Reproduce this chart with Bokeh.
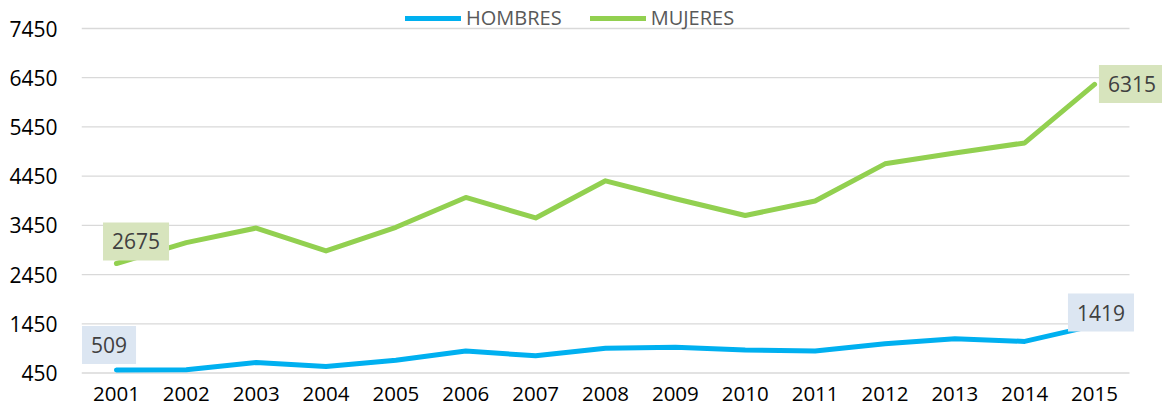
from bokeh.plotting import figure
from bokeh.models import Range1d, Legend, LegendItem, Label, FixedTicker
from bokeh.embed import file_html
from bokeh.resources import INLINE

years = ["2001", "2002", "2003", "2004", "2005", "2006", "2007", "2008",
         "2009", "2010", "2011", "2012", "2013", "2014", "2015"]
hombres = [509, 515, 665, 580, 711, 896, 799, 951, 971, 916, 895, 1045, 1146, 1092, 1419]
mujeres = [2675, 3100, 3395, 2930, 3410, 4017, 3600, 4355, 3990, 3650, 3945, 4700, 4920, 5125, 6315]
y_ticks = [450, 1450, 2450, 3450, 4450, 5450, 6450, 7450]

FONT = "Open Sans"
BLUE = "#00B0F0"
GREEN = "#92D050"

W, H = 1162, 415
LEFT, BOTTOM = 81, 41
CAT_W = 1048          # width of the category area
GRID_SPAN = 344.5     # pixels between lowest and highest gridline
xs = list(range(len(years)))

band = CAT_W / len(years)
x_end = (len(years) - 0.5) + (W - LEFT - CAT_W) / band
frame_h = H - BOTTOM
ppu = GRID_SPAN / (y_ticks[-1] - y_ticks[0])
y_start = y_ticks[0] - 1.5 / ppu
y_end = y_start + frame_h / ppu

p = figure(width=W, height=H, output_backend="svg", toolbar_location=None,
           x_range=Range1d(-0.5, x_end), y_range=Range1d(y_start, y_end),
           min_border_left=LEFT, min_border_right=0, min_border_top=0, min_border_bottom=BOTTOM)
p.outline_line_color = None
p.background_fill_color = "white"
p.border_fill_color = "white"
p.xgrid.grid_line_color = None
p.ygrid.grid_line_color = None

# horizontal gridlines across the category area only
p.segment(x0=[-0.5] * len(y_ticks), x1=[len(years) - 0.5] * len(y_ticks),
          y0=y_ticks, y1=y_ticks, line_color="#D9D9D9", line_width=1.3)

p.yaxis.ticker = FixedTicker(ticks=y_ticks)
p.yaxis.axis_line_color = None
p.yaxis.major_tick_line_color = None
p.yaxis.minor_tick_line_color = None
p.yaxis.major_tick_out = 0
p.yaxis.major_label_standoff = 24
p.yaxis.major_label_text_font = FONT
p.yaxis.major_label_text_font_size = "21px"
p.yaxis.major_label_text_color = "#000000"

p.xaxis.ticker = FixedTicker(ticks=xs)
p.xaxis.major_label_overrides = {i: y for i, y in zip(xs, years)}
p.xaxis.axis_line_color = None
p.xaxis.major_tick_line_color = None
p.xaxis.minor_tick_line_color = None
p.xaxis.major_tick_out = 0
p.xaxis.major_label_standoff = 12
p.xaxis.major_label_text_font = FONT
p.xaxis.major_label_text_font_size = "20.5px"
p.xaxis.major_label_text_color = "#000000"

r_h = p.line(xs, hombres, line_color=BLUE, line_width=5, line_cap="round", line_join="round")
r_m = p.line(xs, mujeres, line_color=GREEN, line_width=5, line_cap="round", line_join="round")

legend = Legend(items=[LegendItem(label="HOMBRES", renderers=[r_h]),
                       LegendItem(label="MUJERES", renderers=[r_m])],
                location=(324, frame_h - 31), orientation="horizontal",
                glyph_width=56, glyph_height=20, label_height=20,
                label_standoff=5, spacing=28, padding=0, margin=0,
                background_fill_alpha=0, border_line_color=None,
                label_text_font=FONT, label_text_font_size="20px",
                label_text_color="#595959")
p.add_layout(legend)

def add_label(idx, yv, xo, yo, bg):
    lab = Label(x=xs[idx], y=yv, x_offset=xo, y_offset=yo, text=str(yv),
                text_align="center", text_baseline="middle",
                text_font=FONT, text_font_size="21px", text_color="#404040",
                background_fill_color=bg, padding=dict(x=9, y=11))
    p.add_layout(lab)

last = len(years) - 1
add_label(0, mujeres[0], 19.6, 22, "#D7E4BD")
add_label(0, hombres[0], -7.4, 25, "#DCE6F2")
add_label(last, hombres[last], 6.4, 12.8, "#DCE6F2")
add_label(last, mujeres[last], 37.4, 0.4, "#D7E4BD")

open("out.html", "w").write(file_html(p, INLINE))
